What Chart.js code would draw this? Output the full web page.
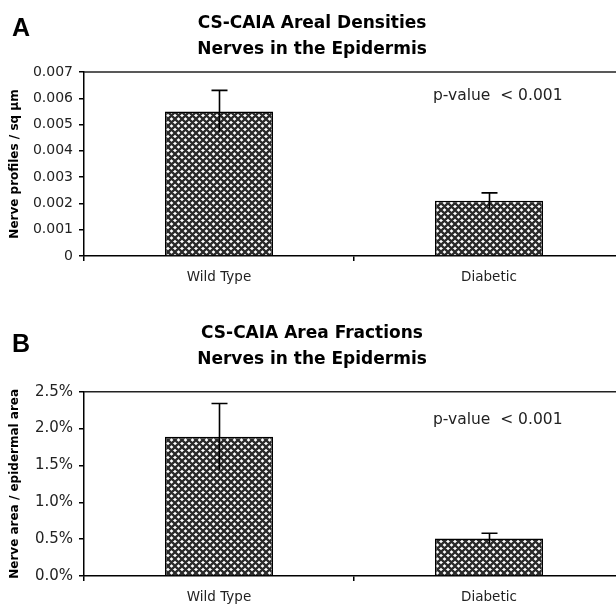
<!DOCTYPE html>
<html><head><meta charset="utf-8">
<script src="https://cdn.jsdelivr.net/npm/chart.js@4.4.1/dist/chart.umd.min.js"></script>
<style>
html,body{margin:0;padding:0;background:#fff;overflow:hidden;width:616px;height:605px}
#wrapA{position:absolute;left:0;top:0}
#wrapB{position:absolute;left:0;top:300px}
canvas{display:block}
</style></head><body>
<div id="wrapA"><canvas id="cA" width="630" height="300"></canvas></div>
<div id="wrapB"><canvas id="cB" width="630" height="305"></canvas></div>
<script>
// ---- data ----
const categories = ['Wild Type', 'Diabetic'];
const densityValues = [0.0055, 0.0021];
const densityErrors = [0.0008, 0.0003];
const densityTickLabels = ['0', '0.001', '0.002', '0.003', '0.004', '0.005', '0.006', '0.007'];
const fractionValues = [1.89, 0.51];   // percent
const fractionErrors = [0.45, 0.07];   // percent
const fractionTickLabels = ['0.0%', '0.5%', '1.0%', '1.5%', '2.0%', '2.5%'];
const pValueNote = 'p-value  < 0.001';

// ---- cross-hatch pattern ----
function crossHatch() {
  const s = 7, c = document.createElement('canvas');
  c.width = s; c.height = s;
  const g = c.getContext('2d');
  g.fillStyle = '#fff'; g.fillRect(0, 0, s, s);
  g.strokeStyle = '#2a2a2a'; g.lineWidth = 2.3;
  g.beginPath();
  for (const o of [-s, 0, s]) {
    g.moveTo(o - 1, -1); g.lineTo(o + s + 1, s + 1);
    g.moveTo(o + s + 1, -1); g.lineTo(o - 1, s + 1);
  }
  g.stroke();
  return g.createPattern(c, 'repeat');
}
const hatch = crossHatch();

const errorBars = {
  id: 'errorBars',
  afterDatasetsDraw(chart, args, opts) {
    const {ctx, scales: {x, y}} = chart;
    const ds = chart.data.datasets[0];
    ctx.save();
    ctx.strokeStyle = '#000'; ctx.lineWidth = 1.6;
    ds.data.forEach((v, i) => {
      const px = Math.round(x.getPixelForValue(i)) + 0.5;
      const top = y.getPixelForValue(v + opts.errors[i]);
      const bot = y.getPixelForValue(v - opts.errors[i]);
      ctx.beginPath();
      ctx.moveTo(px, bot); ctx.lineTo(px, top);
      ctx.moveTo(px - opts.cap, top); ctx.lineTo(px + opts.cap, top);
      ctx.stroke();
    });
    ctx.restore();
  }
};

const frame = {
  id: 'frame',
  afterDraw(chart, args, opts) {
    const {ctx, chartArea: a, scales: {y}} = chart;
    ctx.save();
    ctx.strokeStyle = '#222'; ctx.lineWidth = 1.5;
    ctx.beginPath(); ctx.moveTo(a.left, a.top); ctx.lineTo(a.right, a.top); ctx.stroke();
    ctx.fillStyle = '#000';
    ctx.font = 'bold 25px "Liberation Sans"';
    ctx.textBaseline = 'alphabetic'; ctx.textAlign = 'left';
    ctx.fillText(opts.panel, 12, opts.panelY);
    const bar = chart.getDatasetMeta(0).data[1];
    ctx.fillStyle = '#222';
    ctx.font = '15.5px "DejaVu Sans"';
    ctx.textBaseline = 'middle';
    ctx.fillText(pValueNote, bar.x - bar.width / 2 - 2, y.getPixelForValue(opts.noteY));
    ctx.restore();
  }
};

function makeChart(id, values, errors, tickLabels, cfg) {
  return new Chart(document.getElementById(id), {
    type: 'bar',
    data: {
      labels: categories,
      datasets: [{
        data: values, backgroundColor: hatch, borderColor: '#000', borderWidth: 1.5,
        barPercentage: 0.4, categoryPercentage: 1
      }]
    },
    options: {
      responsive: false, animation: false,
      layout: {padding: {left: 0, right: 6, top: 0, bottom: 0}},
      plugins: {
        legend: {display: false}, tooltip: {enabled: false},
        title: {
          display: true, text: cfg.title, color: '#000',
          font: {family: 'DejaVu Sans', size: 17, weight: 'bold', lineHeight: cfg.titleLH},
          padding: cfg.titlePad
        },
        errorBars: {errors: errors, cap: 8},
        frame: {panel: cfg.panel, panelY: cfg.panelY, noteY: cfg.noteY}
      },
      scales: {
        x: {
          grid: {drawOnChartArea: false, drawTicks: true, tickLength: 5, color: '#000', lineWidth: 1.5},
          border: {color: '#000', width: 1.5},
          ticks: {font: {family: 'DejaVu Sans', size: 13.5}, color: '#222', padding: cfg.xPad},
          afterFit(s) { s.height = cfg.xHeight; }
        },
        y: {
          min: 0, max: cfg.max,
          grid: {drawOnChartArea: false, drawTicks: true, tickLength: 5, color: '#000', lineWidth: 1.5},
          border: {color: '#000', width: 1.5},
          ticks: {stepSize: cfg.step, font: {family: 'DejaVu Sans', size: cfg.tickSize}, color: '#222', padding: 6,
                  callback: (v, i) => tickLabels[i]},
          title: {display: true, text: cfg.yTitle, color: '#000',
                  font: {family: 'DejaVu Sans', size: 12, weight: 'bold'}, padding: {top: 8, bottom: 0}},
          afterFit(s) { s.width = 84; }
        }
      }
    },
    plugins: [errorBars, frame]
  });
}

makeChart('cA', densityValues, densityErrors, densityTickLabels, {
  title: ['CS-CAIA Areal Densities', 'Nerves in the Epidermis'],
  titleLH: 1.5, titlePad: {top: 11, bottom: 10},
  panel: 'A', panelY: 36, noteY: 0.0061,
  max: 0.007, step: 0.001, tickSize: 14,
  yTitle: 'Nerve profiles / sq µm', xPad: 8, xHeight: 44
});
makeChart('cB', fractionValues, fractionErrors, fractionTickLabels, {
  title: ['CS-CAIA Area Fractions', 'Nerves in the Epidermis'],
  titleLH: 1.55, titlePad: {top: 20, bottom: 19},
  panel: 'B', panelY: 52, noteY: 2.12,
  max: 2.5, step: 0.5, tickSize: 15,
  yTitle: 'Nerve area / epidermal area', xPad: 8, xHeight: 29
});
</script>
</body></html>
